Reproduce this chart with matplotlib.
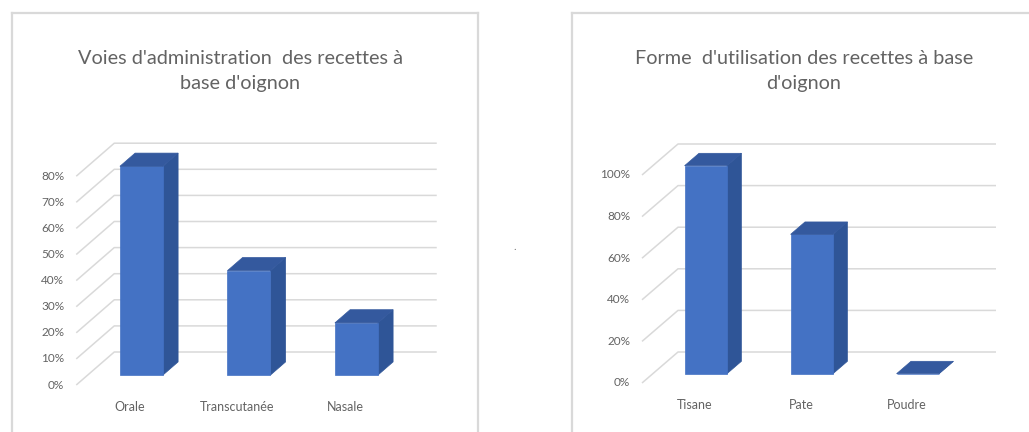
import matplotlib
matplotlib.use("Agg")
import matplotlib.pyplot as plt
from matplotlib.patches import Polygon

# ---- data ----------------------------------------------------------------
route_labels = ["Orale", "Transcutanée", "Nasale"]
route_pct = [80, 40, 20]
route_ticks = [0, 10, 20, 30, 40, 50, 60, 70, 80]
route_title = "Voies d'administration  des recettes à\nbase d'oignon"

form_labels = ["Tisane", "Pate", "Poudre"]
form_pct = [100, 67, 0]
form_ticks = [0, 20, 40, 60, 80, 100]
form_title = "Forme  d'utilisation des recettes à base\nd'oignon"

# ---- styling -------------------------------------------------------------
W, H, DPI = 1029, 432, 100
FRONT = "#4472c4"
SIDE = "#2f5597"
TOP = "#34599e"
GRID = "#d9d9d9"
TEXT = "#636363"
FONT = "Lato"

plt.rcParams["font.family"] = [FONT, "DejaVu Sans"]

fig = plt.figure(figsize=(W / DPI, H / DPI), dpi=DPI)
fig.patch.set_facecolor("white")


def chart3d(box, origin, cat_px, pct_px, depth_px, labels, values, ticks,
            title, title_x):
    """Oblique 3-D column chart inside a pixel box of the figure."""
    x0, y0, x1, y1 = box
    ox, oy = origin
    ax = fig.add_axes([x0 / W, 1 - y1 / H, (x1 - x0) / W, (y1 - y0) / H])
    ax.set_xlim((x0 - ox) / cat_px, (x1 - ox) / cat_px)
    ax.set_ylim((oy - y1) / pct_px, (oy - y0) / pct_px)
    ax.set_xticks([])
    ax.set_yticks([])
    for s in ("left", "top", "right"):
        ax.spines[s].set_color("#d9d9d9")
        ax.spines[s].set_linewidth(1.6)
    ax.spines["bottom"].set_visible(False)

    dx = depth_px[0] / cat_px
    dy = depth_px[1] / pct_px
    n = len(labels)
    wall_x = -0.5
    end_x = n - 0.5

    # side wall and back wall gridlines
    for v in ticks:
        ax.plot([wall_x, wall_x + dx, end_x + dx], [v, v + dy, v + dy],
                color=GRID, lw=1.1, solid_capstyle="butt", zorder=1)
        ax.annotate(f"{v}%", (wall_x, v), xytext=(-12, 0),
                    textcoords="offset pixels", ha="right", va="center",
                    fontsize=8.5, color=TEXT)

    # columns
    t0, t1, hw = 0.3, 0.7, 0.2
    for i, (lab, v) in enumerate(zip(labels, values)):
        fx, fy = i + t0 * dx, t0 * dy
        bx, by = i + t1 * dx, t1 * dy
        front = [(fx - hw, fy), (fx + hw, fy), (fx + hw, fy + v), (fx - hw, fy + v)]
        side = [(fx + hw, fy), (bx + hw, by), (bx + hw, by + v), (fx + hw, fy + v)]
        top = [(fx - hw, fy + v), (fx + hw, fy + v), (bx + hw, by + v), (bx - hw, by + v)]
        ax.add_patch(Polygon(side, closed=True, fc=SIDE, ec=SIDE, lw=0.5, zorder=3))
        ax.add_patch(Polygon(front, closed=True, fc=FRONT, ec=FRONT, lw=0.5, zorder=3))
        ax.add_patch(Polygon(top, closed=True, fc=TOP, ec=TOP, lw=0.5, zorder=4))
        ax.annotate(lab, (i, 0), xytext=(0, -22), textcoords="offset pixels",
                    ha="center", va="center", fontsize=9, color=TEXT)

    fig.text(title_x / W, 1 - 71 / H, title, ha="center", va="center",
             fontsize=14.3, color=TEXT, linespacing=1.6)
    return ax


chart3d(box=(12, 13, 478, 440), origin=(130, 385), cat_px=107.5, pct_px=2.61,
        depth_px=(38, 33), labels=route_labels, values=route_pct,
        ticks=route_ticks, title=route_title, title_x=240)

chart3d(box=(572, 13, 1045, 440), origin=(695, 383), cat_px=106, pct_px=2.08,
        depth_px=(36, 31), labels=form_labels, values=form_pct,
        ticks=form_ticks, title=form_title, title_x=804)

# small stray mark between the two charts
fig.text(515 / W, 1 - 246 / H, ".", ha="center", va="center",
         fontsize=8, color="#7f7f7f")

fig.savefig("out.png", dpi=DPI, facecolor="white")
